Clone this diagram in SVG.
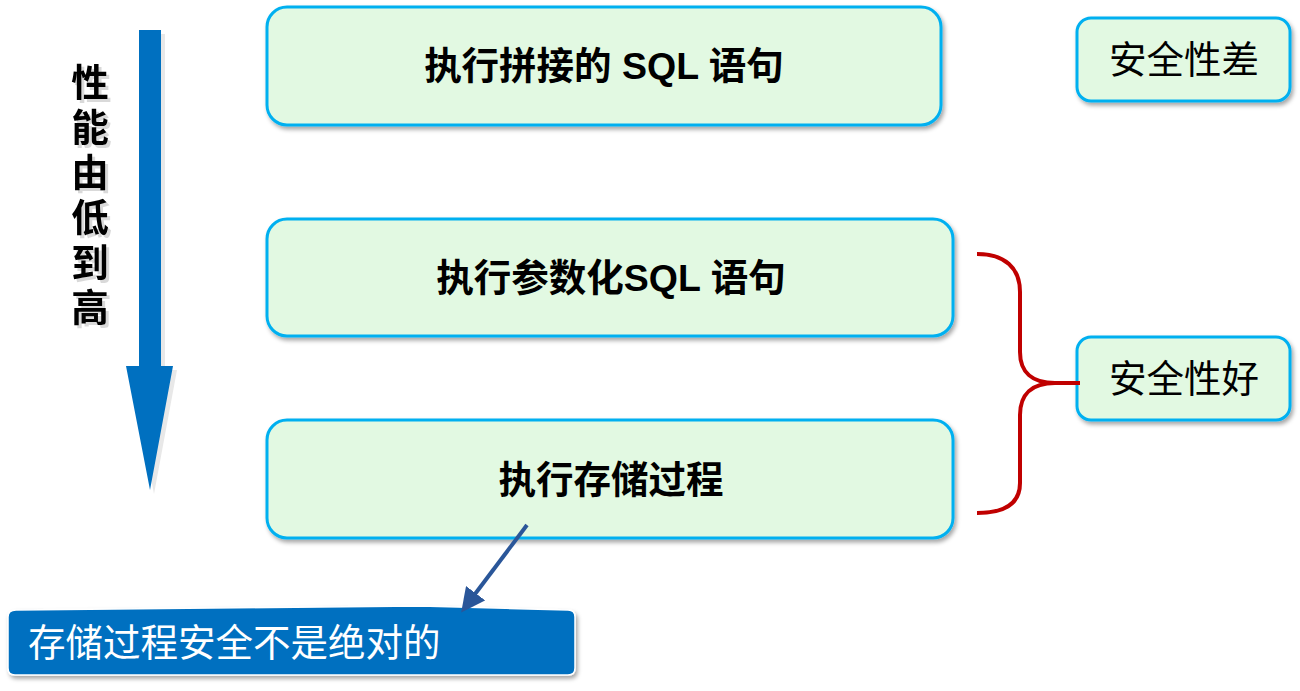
<svg xmlns="http://www.w3.org/2000/svg" width="1300" height="691" viewBox="0 0 1300 691">
<defs>
<style>
.box{fill:#E2F9E2;stroke:#00B0F0;stroke-width:3}
.t{font-family:"Liberation Sans","Noto Sans CJK SC",sans-serif;font-size:37.5px;fill:#000;text-anchor:middle}
.b{font-weight:bold}
</style>
<filter id="sh" x="-10%" y="-10%" width="120%" height="130%">
<feDropShadow dx="2" dy="3" stdDeviation="2" flood-color="#000" flood-opacity="0.35"/>
</filter>
<filter id="tsh" x="-20%" y="-20%" width="150%" height="150%">
<feDropShadow dx="3" dy="3" stdDeviation="0.5" flood-color="#000" flood-opacity="0.15"/>
</filter>
<marker id="ah" markerWidth="6" markerHeight="6" refX="4" refY="3" orient="auto" markerUnits="strokeWidth">
<path d="M0,0 L6,3 L0,6 Z" fill="#2A5699"/>
</marker>
</defs>
<rect width="1300" height="691" fill="#fff"/>

<g id="perf-arrow">
<path d="M143,34 L165,34 L165,370 L177,370 L154,494 L130,370 L143,370 Z" fill="#E8E8E8"/>
<path d="M139,30 L161,30 L161,366 L173,366 L150,490 L126,366 L139,366 Z" fill="#0070C0"/>
</g>
<g id="perf-label" filter="url(#tsh)">
<text class="t b" x="90" y="96">性</text>
<text class="t b" x="90" y="141">能</text>
<text class="t b" x="90" y="186">由</text>
<text class="t b" x="90" y="231">低</text>
<text class="t b" x="90" y="276">到</text>
<text class="t b" x="90" y="321">高</text>
</g>

<g id="node-concat">
<rect class="box" x="267" y="7" width="674" height="118" rx="20" filter="url(#sh)"/>
<text class="t b" x="604" y="79">执行拼接的 SQL 语句</text>
</g>
<g id="node-param">
<rect class="box" x="267" y="219" width="686" height="117" rx="20" filter="url(#sh)"/>
<text class="t b" x="611" y="291">执行参数化SQL 语句</text>
</g>
<g id="node-proc">
<rect class="box" x="267" y="420" width="686" height="118" rx="20" filter="url(#sh)"/>
<text class="t b" x="611" y="493">执行存储过程</text>
</g>
<g id="node-unsafe">
<rect class="box" x="1077" y="18" width="213" height="83" rx="14" filter="url(#sh)"/>
<text class="t" x="1184" y="73">安全性差</text>
</g>
<g id="node-safe">
<rect class="box" x="1077" y="337" width="213" height="83" rx="14" filter="url(#sh)"/>
<text class="t" x="1184" y="392">安全性好</text>
</g>
<g id="node-note">
<path d="M16,610 L420,606 L568,610 Q575,610 575,617 L575,668 Q575,675 568,675 L15,675 Q8,675 8,668 L8,617 Q8,610 16,610 Z" fill="#0070C0" stroke="#fff" stroke-width="1.5" filter="url(#sh)"/>
<text x="28" y="656" font-family="'Liberation Sans','Noto Sans CJK SC',sans-serif" font-size="37.5" fill="#fff">存储过程安全不是绝对的</text>
</g>

<g id="connectors">
<path d="M977,254 C1005,254 1020,268 1020,292 L1020,352 C1020,372 1032,383 1055,383 L1080,383 M1055,383 C1032,383 1020,394 1020,415 L1020,483 C1020,503 1005,513 977,513" fill="none" stroke="#C00000" stroke-width="4"/>
<line x1="527" y1="525" x2="466" y2="606" stroke="#2A5699" stroke-width="4" marker-end="url(#ah)"/>
</g>
</svg>
